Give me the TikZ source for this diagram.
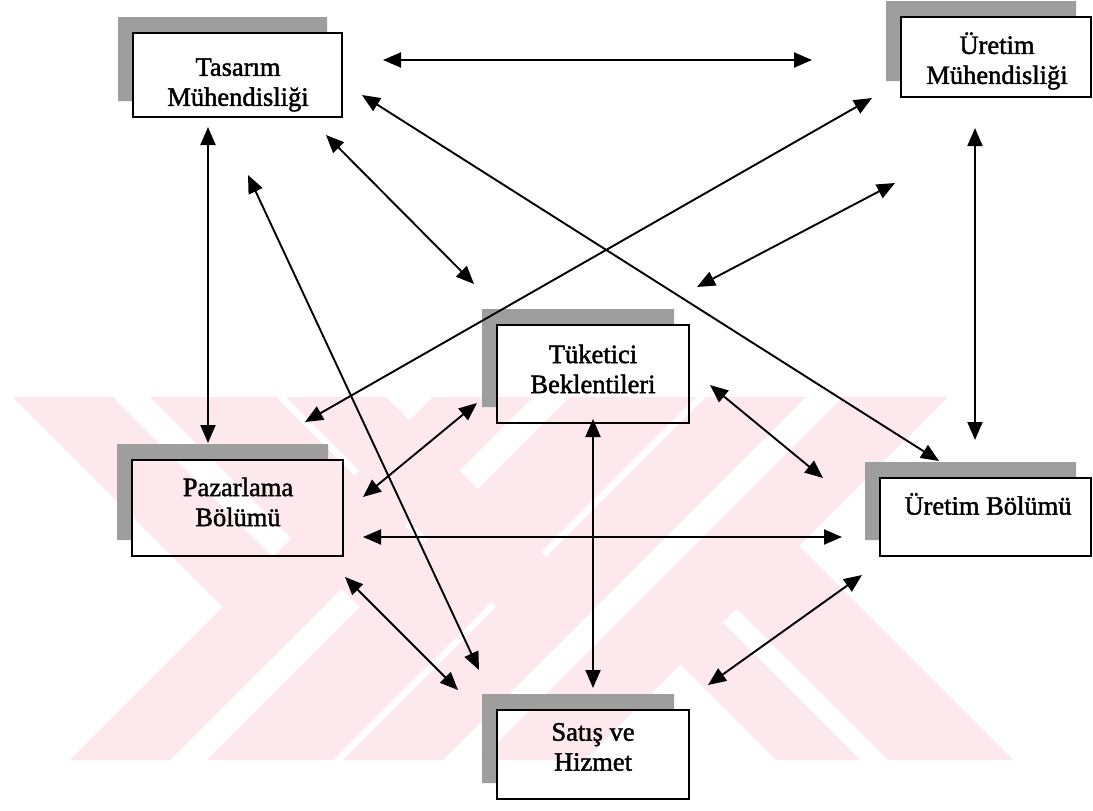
\documentclass[tikz,border=0pt]{standalone}
\usepackage{fontspec}
\setmainfont[FakeBold=1.6]{Liberation Serif}
\usetikzlibrary{arrows.meta,fit}

\definecolor{wm}{RGB}{252,232,237}
\definecolor{shadowgray}{RGB}{158,158,158}

% front box with an offset grey shadow peeking out at top and left
\newcommand\stackbox[5]{%
  \fill[shadowgray] (#2-15,#3-16) -- (#4-15,#3-16) -- (#4-15,#3) -- (#2,#3)
               -- (#2,#5-16) -- (#2-15,#5-16) -- cycle;
  \node[box, fit={(#2,#3) (#4,#5)}] (#1) {};}

\begin{document}
\begin{tikzpicture}[x=1pt,y=-1pt,
  box/.style={draw=black,line width=1.7pt,inner sep=0pt},
  lbl/.style={font=\fontsize{26.5}{30}\selectfont,align=center,inner sep=0pt},
  link/.style={line width=1.9pt,
    {Triangle[length=18pt,width=15pt]}-{Triangle[length=18pt,width=15pt]}}]
\useasboundingbox (0,0) rectangle (1093,811);
\fill[white] (0,0) rectangle (1093,811);

% ---- background emblem: chevrons and crossing bands ----
\begin{scope}[fill=wm]
  % rising bands
  \fill (70,760) -- (170,760) -- (533,397) -- (433,397) -- cycle;
  \fill (207,760) -- (333,760) -- (696,397) -- (570,397) -- cycle;
  \fill (343,760) -- (443,760) -- (806,397) -- (706,397) -- cycle;
  \fill (480,760) -- (585,760) -- (948,397) -- (843,397) -- cycle;
  % falling upper arms of the chevrons
  \fill (13,397) -- (113,397) -- (323,607) -- (273,657) -- cycle;
  \fill (150,397) -- (276,397) -- (486,607) -- (423,670) -- cycle;
  \fill (286,397) -- (386,397) -- (596,607) -- (546,657) -- cycle;
  % falling bands on the right
  \fill (680.5,664.5) -- (722.5,622.5) -- (860,760) -- (776,760) -- cycle;
  \fill (736.5,608.5) -- (799,546) -- (1013,760) -- (888,760) -- cycle;
\end{scope}

% ---- boxes ----
\stackbox{tas}{133}{33}{342}{117}
\stackbox{urm}{901}{17}{1091}{97}
\stackbox{tuk}{497}{325}{689}{423}
\stackbox{paz}{132}{460}{343}{556}
\stackbox{urb}{880}{478}{1091}{556}
\stackbox{sat}{497}{710}{689}{799}

% ---- labels ----
\node[lbl] (tas-t) at (238,85) {Tasarım\\Mühendisliği};
\node[lbl] (urm-t) at (997,61) {Üretim\\Mühendisliği};
\node[lbl] (tuk-t) at (593,369) {Tüketici\\Beklentileri};
\node[lbl] (paz-t) at (238,502) {Pazarlama\\Bölümü};
\node[lbl] (urb-t) at (988,504) {Üretim Bölümü};
\node[lbl] (sat-t) at (593,747) {Satış ve\\Hizmet};

% ---- connector ends ----
\coordinate (tas-a) at (383,60);   \coordinate (urm-a) at (812,60);
\coordinate (tas-b) at (208,127);  \coordinate (paz-b) at (208,443);
\coordinate (tas-c) at (326,135);  \coordinate (tuk-c) at (474,284);
\coordinate (tas-d) at (362,95);   \coordinate (urb-d) at (939,461);
\coordinate (tas-e) at (248,175);  \coordinate (sat-e) at (479,670);
\coordinate (urm-f) at (872,98);   \coordinate (paz-f) at (305,422);
\coordinate (urm-g) at (895,183);  \coordinate (tuk-g) at (697,287);
\coordinate (urm-h) at (975,128);  \coordinate (urb-h) at (975,440);
\coordinate (tuk-i) at (477,403);  \coordinate (paz-i) at (363,497);
\coordinate (tuk-j) at (710,385);  \coordinate (urb-j) at (823,478);
\coordinate (tuk-k) at (593,419);  \coordinate (sat-k) at (593,688);
\coordinate (paz-l) at (363,537);  \coordinate (urb-l) at (842,537);
\coordinate (paz-m) at (345,577);  \coordinate (sat-m) at (458,690);
\coordinate (urb-n) at (862,575);  \coordinate (sat-n) at (708,685);

% ---- connectors ----
\draw[link] (tas-a) -- (urm-a);
\draw[link] (tas-b) -- (paz-b);
\draw[link] (tas-c) -- (tuk-c);
\draw[link] (tas-d) -- (urb-d);
\draw[link] (tas-e) -- (sat-e);
\draw[link] (urm-f) -- (paz-f);
\draw[link] (urm-g) -- (tuk-g);
\draw[link] (urm-h) -- (urb-h);
\draw[link] (tuk-i) -- (paz-i);
\draw[link] (tuk-j) -- (urb-j);
\draw[link] (tuk-k) -- (sat-k);
\draw[link] (paz-l) -- (urb-l);
\draw[link] (paz-m) -- (sat-m);
\draw[link] (urb-n) -- (sat-n);
\end{tikzpicture}
\end{document}
